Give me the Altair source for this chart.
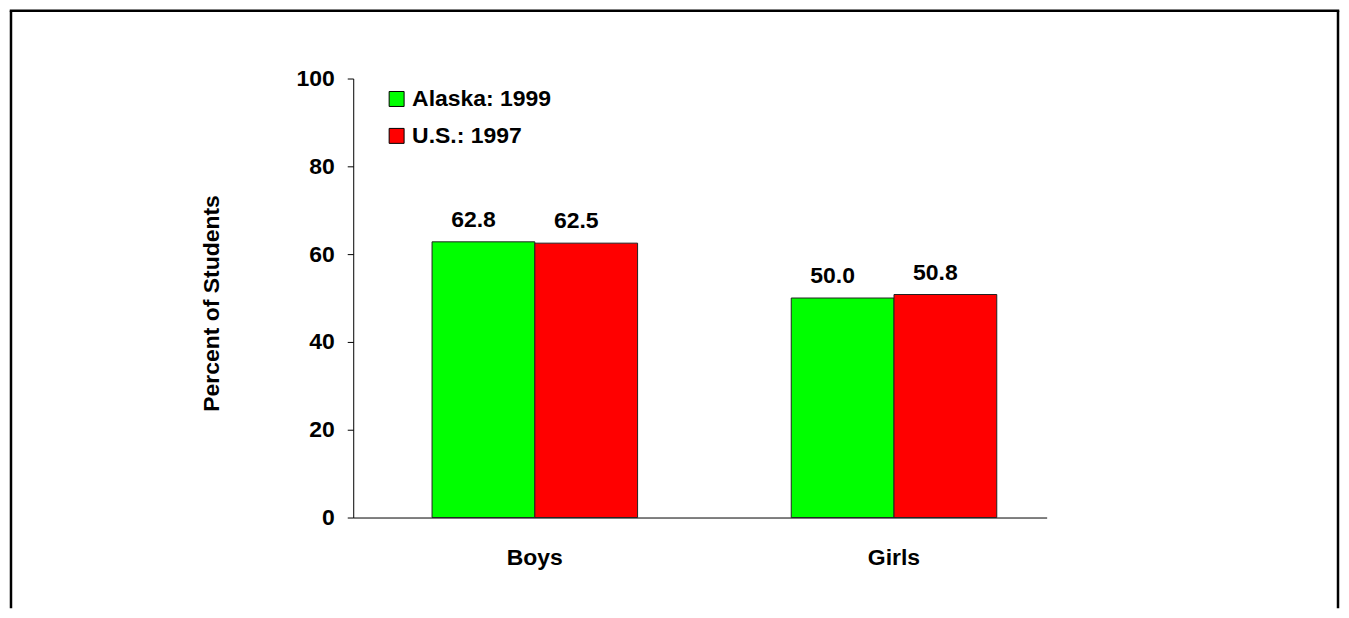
import altair as alt
import pandas as pd

groups = ["Boys", "Girls"]
series = ["Alaska: 1999", "U.S.: 1997"]
alaska = [62.8, 50.0]
us = [62.5, 50.8]
colors = ["#00FF00", "#FF0000"]
y_ticks = [0, 20, 40, 60, 80, 100]

rows = []
for g, a, u in zip(groups, alaska, us):
    rows.append({"group": g, "series": series[0], "value": a})
    rows.append({"group": g, "series": series[1], "value": u})
df = pd.DataFrame(rows)

FONT = "Liberation Sans"
FS = 23

base = alt.Chart(df).encode(
    x=alt.X(
        "group:N",
        sort=groups,
        scale=alt.Scale(paddingInner=0.42778, paddingOuter=0.1792, align=0.6124),
        axis=alt.Axis(
            title=None, labelAngle=0, ticks=False, tickSize=0, labelPadding=29,
            labelFontSize=FS, labelFont=FONT, labelFontWeight="bold", labelColor="black",
            domainColor="black", domainWidth=1, labelBaseline="top",
        ),
    ),
    xOffset=alt.XOffset("series:N", sort=series, scale=alt.Scale(paddingInner=0, paddingOuter=0)),
    y=alt.Y(
        "value:Q",
        scale=alt.Scale(domain=[0, 100], nice=False),
        axis=alt.Axis(
            values=y_ticks, title="Percent of Students", grid=False,
            tickSize=6, tickColor="black", domainColor="black", domainWidth=1, tickWidth=1,
            labelPadding=13, labelFontSize=FS, labelFont=FONT, labelFontWeight="bold",
            labelColor="black",
            titleFont=FONT, titleFontSize=FS, titleFontWeight="bold", titleColor="black",
            titleX=-135, titleY=225, titleAngle=-90, titleAlign="center",
            titleBaseline="alphabetic",
        ),
    ),
)

bars = base.mark_bar(stroke="#222222", strokeWidth=1).encode(
    color=alt.Color(
        "series:N",
        sort=series,
        scale=alt.Scale(domain=series, range=colors),
        legend=alt.Legend(
            title=None, orient="none", legendX=32, legendY=9,
            symbolType="square", symbolSize=225, symbolStrokeColor="black",
            symbolStrokeWidth=1, symbolOpacity=1,
            labelFontSize=FS, labelFont=FONT, labelFontWeight="bold", labelColor="black",
            labelOffset=4, rowPadding=13, padding=0,
        ),
    )
)

labels = base.mark_text(
    baseline="alphabetic", dy=-15, dx=-10, fontSize=FS, font=FONT,
    fontWeight="bold", color="black",
).encode(text=alt.Text("value:Q", format=".1f"))

one = pd.DataFrame({"f": [0]})
rule_style = dict(color="black", strokeWidth=2.5)
left = alt.Chart(one).mark_rule(**rule_style).encode(
    x=alt.value(-343), y=alt.value(-68), y2=alt.value(531)
)
top = alt.Chart(one).mark_rule(**rule_style).encode(
    x=alt.value(-344.25), x2=alt.value(988.25), y=alt.value(-68)
)
right = alt.Chart(one).mark_rule(**rule_style).encode(
    x=alt.value(987), y=alt.value(-68), y2=alt.value(531)
)

chart = alt.layer(left, top, right, bars, labels).properties(
    width=695, height=440, padding=0
).configure_view(strokeOpacity=0)

chart.save("out.html", embed_options={"renderer": "svg", "actions": False})
